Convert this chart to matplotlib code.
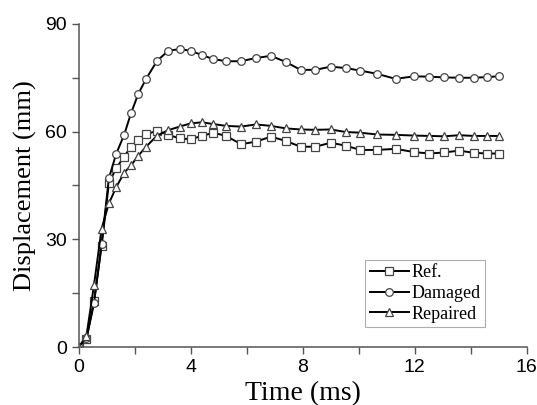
import matplotlib
matplotlib.use("Agg")
import matplotlib.pyplot as plt
from matplotlib.ticker import MultipleLocator

# --- data ---
time_ms = [0, 0.27, 0.54, 0.81, 1.07, 1.33, 1.61, 1.86, 2.12, 2.40, 2.79, 3.19,
           3.60, 3.99, 4.40, 4.80, 5.26, 5.79, 6.32, 6.86, 7.39, 7.92, 8.45,
           8.99, 9.53, 10.05, 10.65, 11.31, 11.98, 12.52, 13.05, 13.58, 14.12,
           14.58, 15.0]
ref = [0, 2.2, 12.8, 28.2, 45.7, 49.8, 53.0, 55.8, 57.7, 59.2, 60.3, 59.1,
       58.1, 57.9, 58.8, 59.7, 58.8, 56.5, 57.2, 58.6, 57.4, 55.8, 55.8,
       56.9, 56.1, 54.9, 54.9, 55.2, 54.3, 53.9, 54.2, 54.7, 54.1, 53.9, 53.9]
damaged = [0, 2.5, 12.3, 28.8, 47.0, 53.8, 59.0, 65.1, 70.5, 74.7, 79.7, 82.5,
           83.0, 82.5, 81.3, 80.2, 79.6, 79.6, 80.5, 81.1, 79.4, 77.2, 77.2,
           78.1, 77.7, 77.0, 76.1, 74.7, 75.4, 75.3, 75.1, 75.0, 75.0, 75.2, 75.4]
repaired = [0, 3.2, 17.4, 33.0, 40.0, 44.5, 48.5, 50.6, 53.3, 55.8, 58.9, 60.4,
            61.4, 62.3, 62.6, 62.1, 61.6, 61.4, 62.0, 61.6, 60.9, 60.6, 60.5,
            60.6, 59.9, 59.7, 59.2, 59.1, 58.9, 58.8, 58.7, 59.0, 58.8, 58.8, 58.8]
labels = ["Ref.", "Damaged", "Repaired"]
markers = ["s", "o", "^"]

serif = ["Liberation Serif", "DejaVu Serif"]
sans = ["Liberation Sans", "DejaVu Sans"]

fig = plt.figure(figsize=(5.37, 4.05), dpi=100)
ax = fig.add_axes([0.147, 0.143, 0.834, 0.798])

for ys, lab, mk in zip([ref, damaged, repaired], labels, markers):
    ax.plot(time_ms, ys, color="black", lw=1.4, marker=mk, ms=5.5,
            mfc="white", mec="#444444", mew=0.9, label=lab)

ax.set_xlim(0, 16)
ax.set_ylim(0, 90)
ax.xaxis.set_major_locator(MultipleLocator(4))
ax.xaxis.set_minor_locator(MultipleLocator(2))
ax.yaxis.set_major_locator(MultipleLocator(30))
ax.yaxis.set_minor_locator(MultipleLocator(15))
ax.tick_params(which="both", direction="out", length=5, width=1, color="#555555")
for lbl in ax.get_xticklabels() + ax.get_yticklabels():
    lbl.set_family(sans)
    lbl.set_fontsize(14)

ax.spines["top"].set_visible(False)
ax.spines["right"].set_visible(False)
for s in ["left", "bottom"]:
    ax.spines[s].set_color("#555555")
    ax.spines[s].set_linewidth(1.1)

ax.set_xlabel("Time (ms)", family=serif, fontsize=20, labelpad=4)
ax.set_ylabel("Displacement (mm)", family=serif, fontsize=19, labelpad=6)

leg = ax.legend(loc="lower right", bbox_to_anchor=(0.906, 0.062), frameon=True,
                fancybox=False, prop={"family": serif, "size": 13},
                handlelength=2.2, handletextpad=0.1, borderpad=0.25,
                labelspacing=0.2, borderaxespad=0)
leg.get_frame().set_edgecolor("#999999")
leg.get_frame().set_linewidth(0.8)

fig.savefig("out.png", dpi=100)
